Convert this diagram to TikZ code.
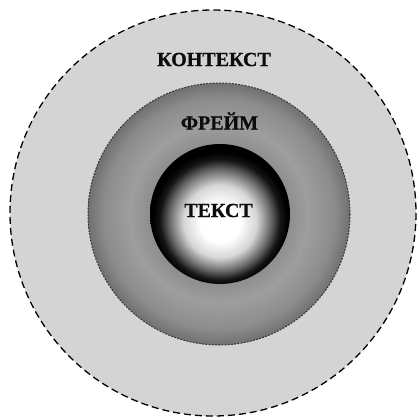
\documentclass[tikz,border=0pt]{standalone}
\usepackage{fontspec}
\setmainfont{Liberation Serif}
\newfontfamily\lblfont[FakeBold=0.8]{Liberation Serif Bold}
\usetikzlibrary{calc}
\pgfdeclareradialshading{freymshade}{\pgfpoint{0bp}{0bp}}{color(0bp)=(black!40); color(13.5bp)=(black!44); color(17bp)=(black!38); color(22bp)=(black!45); color(25bp)=(black!56); color(50bp)=(black!56)}
\pgfdeclareradialshading{tekstshade}{\pgfpoint{0bp}{-3.5bp}}{color(0bp)=(white); color(7bp)=(white); color(13bp)=(black!16); color(18bp)=(black!58); color(21.5bp)=(black!92); color(24bp)=(black); color(50bp)=(black)}
\tikzset{
  lbl/.style={inner sep=0pt,text=black!95,font=\fontsize{20}{20}\selectfont\lblfont}
}

\begin{document}
\begin{tikzpicture}[x=1pt,y=-1pt]
    \useasboundingbox (0,0) rectangle (418,420);
    \coordinate (ckontekst) at (213,213);
    \coordinate (cfreym) at (219,214);
    \coordinate (ctekst) at (220,214);
    % outer ring
    \filldraw[fill=black!17,line width=1.3pt,dash pattern=on 7pt off 4pt] (ckontekst) circle[radius=203];
    % frame ring
    \shade[shading=freymshade] (cfreym) circle[radius=131];
    \draw[black!80,line width=1pt,dash pattern=on 1.8pt off 1.4pt] (cfreym) circle[radius=131];
    % text core
    \shade[shading=tekstshade] (ctekst) circle[radius=70];
    \node[lbl] (kontekst) at (214,59.5) {КОНТЕКСТ};
    \node[lbl] (freym) at (219.5,121) {ФРЕЙМ};
    \node[lbl] (tekst) at (218.5,210.5) {ТЕКСТ};
\end{tikzpicture}
\end{document}
